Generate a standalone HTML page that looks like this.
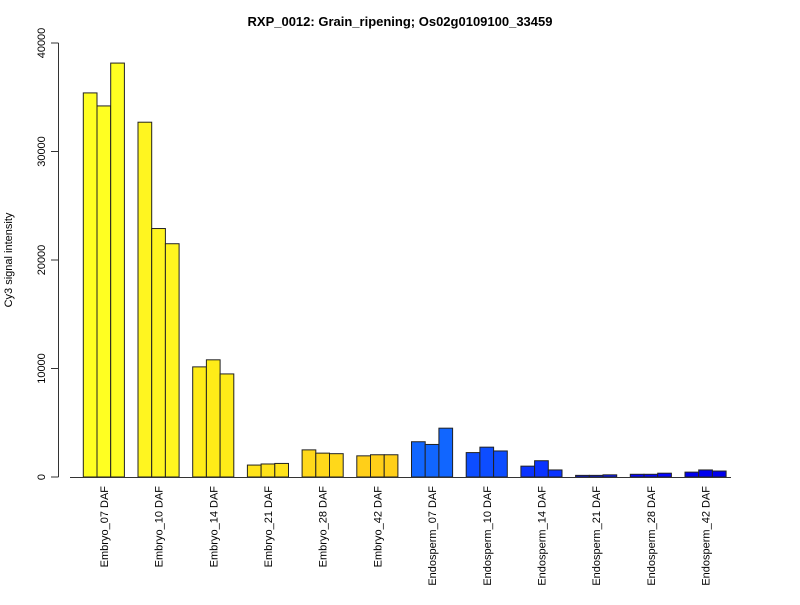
<!DOCTYPE html>
<html><head><meta charset="utf-8"><style>
body{margin:0;background:#fff;}
svg{font-family:"Liberation Sans",Arial,sans-serif;}
</style></head><body>
<svg id="chart" width="800" height="600">
<text x="400" y="26" text-anchor="middle" font-size="13" font-weight="bold">RXP_0012: Grain_ripening; Os02g0109100_33459</text>
<text transform="translate(12,260) rotate(-90)" text-anchor="middle" font-size="11">Cy3 signal intensity</text>
<g id="yaxis"></g>
<g id="bars"></g>
<g id="xlabels"></g>
<line x1="70" y1="477.5" x2="731" y2="477.5" stroke="#333"/>
</svg>
<script>
const categories=["Embryo_07 DAF","Embryo_10 DAF","Embryo_14 DAF","Embryo_21 DAF","Embryo_28 DAF","Embryo_42 DAF","Endosperm_07 DAF","Endosperm_10 DAF","Endosperm_14 DAF","Endosperm_21 DAF","Endosperm_28 DAF","Endosperm_42 DAF"];
const rep1=[35400,32700,10150,1100,2500,1950,3250,2250,1000,150,250,450];
const rep2=[34200,22900,10800,1200,2200,2050,3000,2750,1500,150,250,650];
const rep3=[38150,21500,9500,1250,2150,2050,4500,2400,650,200,350,550];
const colors=["#FFFF22","#FFF520","#FFEC18","#FFE31A","#FFD81A","#FFCF19","#1166FF","#0D4DFF","#0A33FF","#0A1AFF","#0505FF","#0000EE"];
const yTicks=[0,10000,20000,30000,40000];
const NS="http://www.w3.org/2000/svg";
const y0=477,yPerUnit=434/40000;
function yS(v){return y0-v*yPerUnit;}
const bw=13.7,pitch=54.7,x0=83.3;
function xS(g,r){return x0+g*pitch+r*bw;}
const ya=document.getElementById('yaxis');
let al=document.createElementNS(NS,'line');
al.setAttribute('x1',58.5);al.setAttribute('x2',58.5);al.setAttribute('y1',yS(0));al.setAttribute('y2',yS(40000));al.setAttribute('stroke','#333');


ya.appendChild(al);
yTicks.forEach(t=>{
 const l=document.createElementNS(NS,'line');
 l.setAttribute('x1',51);l.setAttribute('x2',58.5);l.setAttribute('y1',yS(t));l.setAttribute('y2',yS(t));l.setAttribute('stroke','#333');
 
 
 ya.appendChild(l);
 const tx=document.createElementNS(NS,'text');
 tx.setAttribute('transform','translate(45,'+yS(t)+') rotate(-90)');
 tx.setAttribute('text-anchor','middle');tx.setAttribute('font-size','11');
 tx.textContent=t;
 
 
 ya.appendChild(tx);
});
const bg=document.getElementById('bars');
const series=[rep1,rep2,rep3];
categories.forEach((c,g)=>{
 series.forEach((s,r)=>{
  const rc=document.createElementNS(NS,'rect');
  const v=s[g];
  rc.setAttribute('x',xS(g,r));rc.setAttribute('width',bw);
  rc.setAttribute('y',yS(v));rc.setAttribute('height',yS(0)-yS(v));
  rc.setAttribute('fill',colors[g]);rc.setAttribute('stroke','#222');rc.setAttribute('stroke-width','1');
  
  
  bg.appendChild(rc);
 });
 const tx=document.createElementNS(NS,'text');
 const cx=xS(g,1.5)+4;
 tx.setAttribute('transform','translate('+cx+',486) rotate(-90)');
 tx.setAttribute('text-anchor','end');tx.setAttribute('font-size','11');
 tx.textContent=c;
 
 
 document.getElementById('xlabels').appendChild(tx);
});
</script>
</body></html>
